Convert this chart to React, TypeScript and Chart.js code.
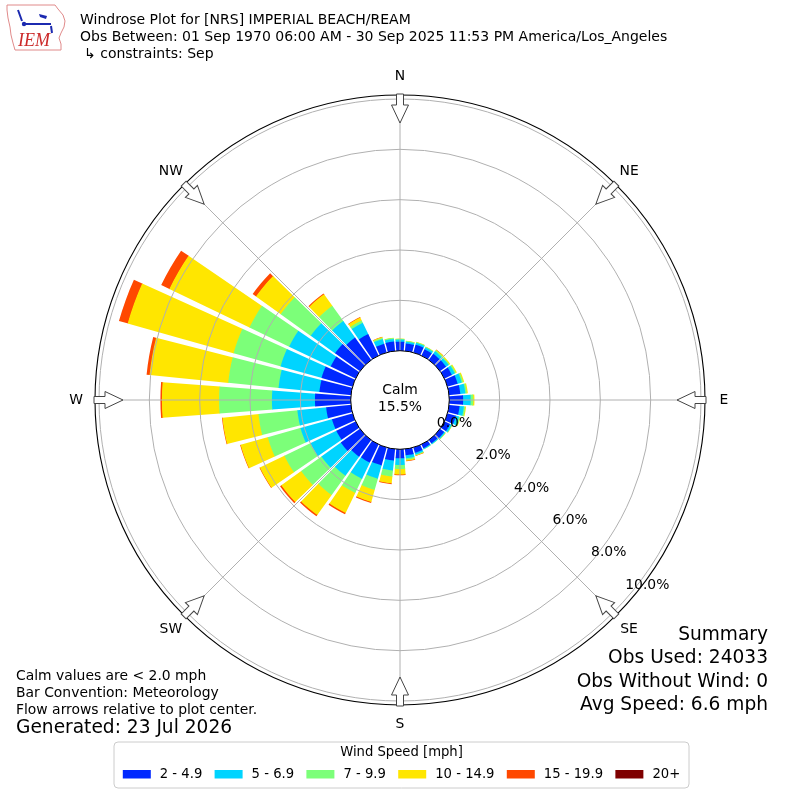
import React, { useEffect, useRef } from "react";
import { Chart, registerables } from "chart.js";

Chart.register(...registerables);

// ---------------- data ----------------
const DIRECTIONS = [0, 10, 20, 30, 40, 50, 60, 70, 80, 90, 100, 110, 120, 130, 140, 150, 160, 170,
  180, 190, 200, 210, 220, 230, 240, 250, 260, 270, 280, 290, 300, 310, 320, 330, 340, 350];

const SPEED_BINS = ["2 - 4.9", "5 - 6.9", "7 - 9.9", "10 - 14.9", "15 - 19.9", "20+"];
const BIN_COLORS = ["rgb(0,40,255)", "rgb(0,212,255)", "rgb(124,255,121)", "rgb(255,230,0)", "rgb(255,72,0)", "rgb(127,0,0)"];

// percent of observations per direction, per speed bin
const PCT_2_5 = [0.36, 0.30, 0.32, 0.28, 0.30, 0.30, 0.33, 0.42, 0.45, 0.55, 0.42, 0.35, 0.25, 0.20, 0.17, 0.17, 0.22, 0.25,
  0.36, 0.46, 0.74, 0.80, 0.82, 0.94, 0.85, 0.85, 0.99, 1.42, 1.26, 1.28, 1.10, 1.22, 1.10, 0.95, 0.36, 0.38];
const PCT_5_7 = [0.08, 0.07, 0.08, 0.08, 0.12, 0.12, 0.13, 0.17, 0.20, 0.30, 0.17, 0.13, 0.07, 0.05, 0.04, 0.04, 0.07, 0.12,
  0.26, 0.40, 0.55, 0.72, 0.93, 0.95, 1.15, 1.30, 1.15, 1.71, 1.63, 1.69, 1.83, 1.19, 0.80, 0.50, 0.20, 0.10];
const PCT_7_10 = [0.03, 0.03, 0.03, 0.03, 0.05, 0.04, 0.05, 0.06, 0.06, 0.10, 0.06, 0.05, 0.02, 0.02, 0.01, 0.01, 0.03, 0.06,
  0.16, 0.24, 0.46, 0.62, 0.94, 0.99, 1.14, 1.35, 1.55, 2.10, 2.01, 1.94, 1.75, 1.47, 0.75, 0.10, 0.05, 0.04];
const PCT_10_15 = [0.01, 0.01, 0.01, 0.01, 0.03, 0.04, 0.04, 0.04, 0.04, 0.05, 0.03, 0.02, 0.01, 0.01, 0.00, 0.00, 0.02, 0.04,
  0.22, 0.27, 0.50, 0.88, 0.98, 0.97, 1.08, 1.12, 1.44, 2.27, 3.14, 4.37, 3.53, 1.21, 0.56, 0.13, 0.03, 0.01];
const PCT_15_20 = [0.00, 0.00, 0.00, 0.00, 0.01, 0.00, 0.00, 0.00, 0.00, 0.00, 0.00, 0.00, 0.00, 0.00, 0.00, 0.00, 0.01, 0.02,
  0.03, 0.03, 0.04, 0.06, 0.06, 0.06, 0.02, 0.02, 0.02, 0.06, 0.12, 0.36, 0.36, 0.16, 0.04, 0.02, 0.01, 0.00];
const PCT_20_UP = [0, 0, 0, 0, 0, 0, 0, 0, 0, 0, 0, 0, 0, 0, 0, 0, 0, 0,
  0, 0, 0, 0, 0, 0, 0, 0, 0, 0, 0, 0, 0, 0, 0, 0, 0, 0];

const RING_TICKS = [0, 2, 4, 6, 8, 10];
const COMPASS = ["N", "NE", "E", "SE", "S", "SW", "W", "NW"];
const CALM_PCT = 15.5;

const TITLE_LINES = [
  "Windrose Plot for [NRS] IMPERIAL BEACH/REAM",
  "Obs Between: 01 Sep 1970 06:00 AM - 30 Sep 2025 11:53 PM America/Los_Angeles",
  "\u21b3 constraints: Sep",
];
const NOTES = ["Calm values are < 2.0 mph", "Bar Convention: Meteorology", "Flow arrows relative to plot center."];
const GENERATED = "Generated: 23 Jul 2026";
const SUMMARY = ["Summary", "Obs Used: 24033", "Obs Without Wind: 0", "Avg Speed: 6.6 mph"];
const LEGEND_TITLE = "Wind Speed [mph]";

// ---------------- styling ----------------
const FONT = '"DejaVu Sans", "Noto Sans", sans-serif';
const GAP_DEG = 1.4;
const BAR_DEG = 10 - GAP_DEG;
const R_MIN = -1.959;
const R_MAX = 10.159;
const GRID = "#b0b0b0";

function text(ctx: CanvasRenderingContext2D, s: string, x: number, y: number, size: number, align: CanvasTextAlign = "left", color = "#000") {
  ctx.font = `${size}px ${FONT}`;
  ctx.fillStyle = color;
  ctx.textAlign = align;
  ctx.textBaseline = "middle";
  ctx.fillText(s, x, y);
}

// turn overlapping cumulative wedges into ring segments (stacked bars)
const stackPlugin = {
  id: "windroseStack",
  afterDatasetsUpdate(chart: any) {
    const sc = chart.scales.r;
    const ds = chart.data.datasets;
    ds.forEach((d: any, k: number) => {
      const meta = chart.getDatasetMeta(k);
      meta.data.forEach((arc: any, i: number) => {
        if (i % 2) return;
        const lower = k === 0 ? 0 : ds[k - 1].data[i];
        if (d.data[i] - lower < 1e-9) {
          arc.outerRadius = 0;
          arc.innerRadius = 0;
          return;
        }
        if (k > 0) arc.innerRadius = Math.max(0, sc.getDistanceFromCenterForValue(lower) - 0.6);
      });
    });
  },
};

const decorPlugin = {
  id: "windroseDecor",
  afterDraw(chart: any) {
    const ctx: CanvasRenderingContext2D = chart.ctx;
    const sc = chart.scales.r;
    const xc = sc.xCenter;
    const yc = sc.yCenter;
    const R = sc.drawingArea;
    const rCalm = sc.getDistanceFromCenterForValue(0);
    const rTop = sc.getDistanceFromCenterForValue(RING_TICKS[RING_TICKS.length - 1]);
    ctx.save();

    // spokes
    ctx.strokeStyle = GRID;
    ctx.lineWidth = 1;
    for (let k = 0; k < 8; k++) {
      const a = (k * 45 * Math.PI) / 180;
      const sx = Math.sin(a), sy = -Math.cos(a);
      ctx.beginPath();
      ctx.moveTo(xc + sx * rCalm, yc + sy * rCalm);
      ctx.lineTo(xc + sx * rTop, yc + sy * rTop);
      ctx.stroke();
    }

    // calm circle
    ctx.beginPath();
    ctx.arc(xc, yc, rCalm, 0, Math.PI * 2);
    ctx.fillStyle = "#fff";
    ctx.fill();
    ctx.strokeStyle = "#000";
    ctx.lineWidth = 1;
    ctx.stroke();
    text(ctx, "Calm", xc, yc - 9.5, 13.9, "center");
    text(ctx, CALM_PCT.toFixed(1) + "%", xc, yc + 7, 13.9, "center");

    // outer frame
    ctx.beginPath();
    ctx.arc(xc, yc, R, 0, Math.PI * 2);
    ctx.strokeStyle = "#000";
    ctx.lineWidth = 1.1;
    ctx.stroke();

    // arrows + compass labels
    for (let k = 0; k < 8; k++) {
      const a = (k * 45 * Math.PI) / 180;
      ctx.save();
      ctx.translate(xc, yc);
      ctx.rotate(a);
      ctx.beginPath();
      ctx.moveTo(-3.5, -(R + 1));
      ctx.lineTo(3.5, -(R + 1));
      ctx.lineTo(3.5, -(R - 10));
      ctx.lineTo(8.5, -(R - 10));
      ctx.lineTo(0, -(R - 28));
      ctx.lineTo(-8.5, -(R - 10));
      ctx.lineTo(-3.5, -(R - 10));
      ctx.closePath();
      ctx.fillStyle = "#fff";
      ctx.fill();
      ctx.strokeStyle = "#444";
      ctx.lineWidth = 1;
      ctx.stroke();
      ctx.restore();
      const rl = R + 19;
      text(ctx, COMPASS[k], xc + Math.sin(a) * rl, yc - Math.cos(a) * rl, 13.9, "center");
    }

    // radial tick labels
    const la = (40 * Math.PI) / 180;
    RING_TICKS.forEach((v) => {
      const r = sc.getDistanceFromCenterForValue(v);
      text(ctx, v.toFixed(1) + "%", xc + r * Math.cos(la) + 16.7, yc + r * Math.sin(la) - 8.5, 13.9, "center");
    });

    // logo
    ctx.beginPath();
    const outline = [[7, 5], [55, 5], [58, 9], [63, 15], [65, 21], [64, 27], [61, 33], [59, 38], [61, 44], [61, 50],
      [15, 50], [13, 43], [11, 35], [10, 27], [8, 18], [7, 10]];
    outline.forEach(([x, y], i) => (i ? ctx.lineTo(x, y) : ctx.moveTo(x, y)));
    ctx.closePath();
    ctx.strokeStyle = "#e08a8a";
    ctx.lineWidth = 1;
    ctx.stroke();
    ctx.strokeStyle = "#1c2ab0";
    ctx.fillStyle = "#1c2ab0";
    ctx.lineWidth = 2;
    ctx.beginPath();
    ctx.moveTo(24, 24); ctx.lineTo(51, 24);
    ctx.moveTo(18, 10); ctx.lineTo(22, 21);
    ctx.moveTo(51, 26); ctx.lineTo(52, 33);
    ctx.stroke();
    ctx.beginPath();
    ctx.moveTo(39, 14); ctx.lineTo(47, 16); ctx.lineTo(46, 19); ctx.lineTo(40, 17); ctx.closePath();
    ctx.fill();
    ctx.beginPath();
    ctx.arc(24, 24, 2.2, 0, Math.PI * 2);
    ctx.fill();
    ctx.font = `italic 18px "Liberation Serif", serif`;
    ctx.fillStyle = "#cc2a2a";
    ctx.textAlign = "left";
    ctx.textBaseline = "alphabetic";
    ctx.fillText("IEM", 18, 46);

    // header
    text(ctx, TITLE_LINES[0], 80, 20, 14);
    text(ctx, TITLE_LINES[1], 80, 37.5, 14);
    text(ctx, TITLE_LINES[2], 84, 54, 14);

    // footer notes
    NOTES.forEach((s, i) => text(ctx, s, 16, 676.7 + i * 16.7, 13.9));
    text(ctx, GENERATED, 16, 728.5, 18.6);
    SUMMARY.forEach((s, i) => text(ctx, s, 768, 635 + i * 23.4, 18.6, "right"));

    // legend
    const bx = 114, by = 742, bw = 575, bh = 46;
    ctx.beginPath();
    ctx.roundRect(bx, by, bw, bh, 4);
    ctx.fillStyle = "#fff";
    ctx.fill();
    ctx.strokeStyle = "#cccccc";
    ctx.lineWidth = 1;
    ctx.stroke();
    text(ctx, LEGEND_TITLE, bx + bw / 2, 753, 13.2, "center");
    ctx.font = `13.2px ${FONT}`;
    const widths = SPEED_BINS.map((s) => ctx.measureText(s).width);
    const total = widths.reduce((s, w) => s + 37 + w, 0) + 12.3 * (widths.length - 1);
    let x = bx + bw / 2 - total / 2;
    SPEED_BINS.forEach((s, i) => {
      ctx.fillStyle = BIN_COLORS[i];
      ctx.fillRect(x, 770, 28, 8.5);
      text(ctx, s, x + 37, 774.5, 13.2);
      x += 37 + widths[i] + 12.3;
    });

    ctx.restore();
  },
};

export default function App() {
  const canvasRef = useRef<HTMLCanvasElement | null>(null);

  useEffect(() => {
    const canvas = canvasRef.current;
    if (!canvas) return;
    const bins = [PCT_2_5, PCT_5_7, PCT_7_10, PCT_10_15, PCT_15_20, PCT_20_UP];
    const cumulative = bins.map((_, k) =>
      DIRECTIONS.map((_, i) => bins.slice(0, k + 1).reduce((s, b) => s + b[i], 0))
    );
    const labels: string[] = [];
    DIRECTIONS.forEach((d) => {
      labels.push(String(d));
      labels.push("");
    });
    const datasets = cumulative.map((vals, k) => ({
      label: SPEED_BINS[k],
      data: vals.flatMap((v) => [v, 0]),
      backgroundColor: (c: any) => (c.dataIndex % 2 ? "rgba(0,0,0,0)" : BIN_COLORS[k]),
      borderWidth: 0,
      angle: (c: any) => (c.dataIndex % 2 ? GAP_DEG : BAR_DEG),
    }));

    const chart = new Chart(canvas, {
      type: "polarArea",
      data: { labels, datasets } as any,
      options: {
        responsive: false,
        animation: false,
        events: [],
        layout: { padding: { top: 95, bottom: 95, left: 95, right: 95 } },
        plugins: { legend: { display: false }, tooltip: { enabled: false }, title: { display: false } },
        scales: {
          r: {
            min: R_MIN,
            max: R_MAX,
            startAngle: -BAR_DEG / 2,
            ticks: { display: false },
            grid: { color: GRID, lineWidth: 1, z: 1 } as any,
            angleLines: { display: false },
            pointLabels: { display: false },
            afterBuildTicks: (scale: any) => {
              scale.ticks = RING_TICKS.slice(1).map((v) => ({ value: v }));
            },
          } as any,
        },
      } as any,
      plugins: [stackPlugin, decorPlugin],
    });
    return () => chart.destroy();
  }, []);

  return (
    <div style={{ position: "absolute", left: 0, top: 0, width: 800, height: 800, background: "#fff" }}>
      <canvas ref={canvasRef} width={800} height={800} style={{ width: 800, height: 800, display: "block" }} />
    </div>
  );
}
